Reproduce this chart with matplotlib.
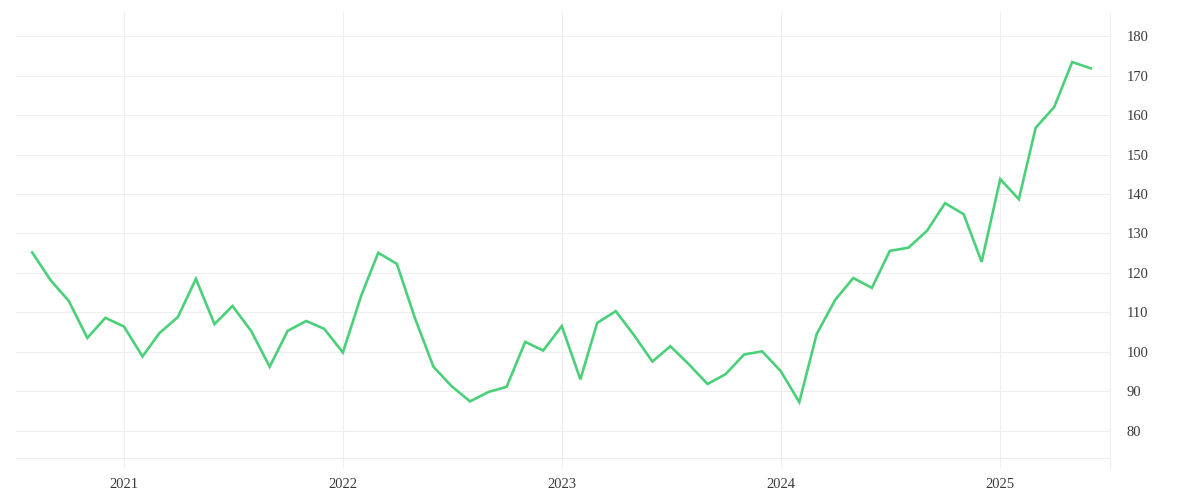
import pandas as pd
import matplotlib.pyplot as plt
import matplotlib.dates as mdates

# monthly values, Aug 2020 .. Jun 2025
months = pd.date_range("2020-08-01", periods=59, freq="MS")
values = [
    125.2, 118.1, 112.9, 103.5, 108.6,
    106.4, 98.8, 104.7, 108.8, 118.5, 107.0, 111.6, 105.3, 96.2, 105.3, 107.8, 105.8,
    99.8, 114.4, 125.1, 122.3, 108.6, 96.2, 91.3, 87.4, 89.8, 91.1, 102.5, 100.3,
    106.5, 93.0, 107.3, 110.3, 104.3, 97.5, 101.4, 96.8, 91.8, 94.3, 99.3, 100.1,
    95.1, 87.2, 104.5, 113.2, 118.7, 116.2, 125.6, 126.4, 130.7, 137.7, 134.9, 122.8,
    143.8, 138.7, 156.8, 162.1, 173.5, 171.9,
]
year_ticks = ["2021", "2022", "2023", "2024", "2025"]
y_ticks = [80, 90, 100, 110, 120, 130, 140, 150, 160, 170, 180]

grid_c = "#eeeeee"
text_c = "#3a3a3a"

fig = plt.figure(figsize=(12, 5), dpi=100)
ax = fig.add_axes([0.0133, 0.064, 0.9117, 0.912])

ax.plot(months, values, color="#4bd07a", lw=1.9, solid_joinstyle="miter")

ax.set_xlim(pd.Timestamp("2020-07-05"), pd.Timestamp("2025-07-03"))
ax.set_ylim(70.5, 186.2)

ax.set_xticks([pd.Timestamp(y + "-01-01") for y in year_ticks])
ax.xaxis.set_major_formatter(mdates.DateFormatter("%Y"))
ax.set_yticks(y_ticks)
ax.yaxis.tick_right()

ax.grid(True, color=grid_c, lw=0.8)
ax.axhline(73.0, color=grid_c, lw=0.8, zorder=0)
ax.set_axisbelow(True)

for s in ["top", "left", "bottom"]:
    ax.spines[s].set_visible(False)
ax.spines["right"].set_color(grid_c)
ax.spines["right"].set_linewidth(0.8)

ax.tick_params(axis="both", length=0, colors=text_c, labelsize=10.5)
ax.tick_params(axis="y", pad=12)
ax.tick_params(axis="x", pad=7)
for lab in ax.get_xticklabels() + ax.get_yticklabels():
    lab.set_fontfamily("Liberation Serif")

fig.savefig("out.png", dpi=100)
